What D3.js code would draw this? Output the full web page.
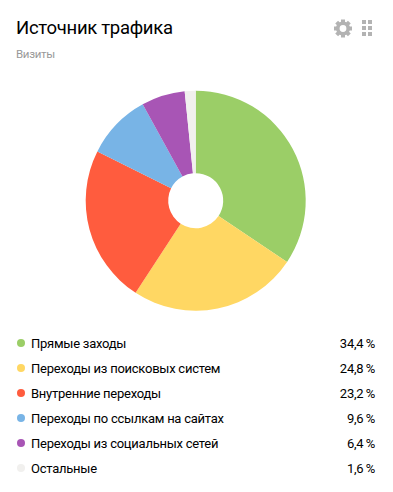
<!DOCTYPE html>
<html>
<head>
<meta charset="utf-8">
<script src="https://cdn.jsdelivr.net/npm/d3@7"></script>
<style>
  html, body { margin: 0; padding: 0; background: #fff; }
  text { font-family: Roboto, sans-serif; }
</style>
</head>
<body>
<svg id="chart" width="393" height="492"></svg>
<script>
// Traffic source chart
const categories = ["Прямые заходы", "Переходы из поисковых систем", "Внутренние переходы",
  "Переходы по ссылкам на сайтах", "Переходы из социальных сетей", "Остальные"];
const shares = [34.4, 24.8, 23.2, 9.6, 6.4, 1.6];
const colors = ["#9bce67", "#ffd763", "#ff5c3e", "#78b4e6", "#a855b5", "#f1f0ee"];

const svg = d3.select("#chart");
const cx = 195.7, cy = 200.7, outer = 110, inner = 27.5;

svg.append("text").attr("x", 16).attr("y", 34)
  .attr("font-size", 18.5).attr("letter-spacing", -0.3).attr("fill", "#000").text("Источник трафика");
svg.append("text").attr("x", 16).attr("y", 58)
  .attr("font-size", 11.5).attr("letter-spacing", -0.3).attr("fill", "#999").text("Визиты");

// gear icon
const gear = svg.append("g").attr("transform", "translate(343,28.5)").attr("fill", "#b3b3b3");
gear.selectAll("rect").data(d3.range(8)).enter().append("rect")
  .attr("x", -2).attr("y", -9).attr("width", 4).attr("height", 5)
  .attr("transform", d => "rotate(" + d * 45 + ")");
gear.append("circle").attr("r", 5.2).attr("fill", "none")
  .attr("stroke", "#b3b3b3").attr("stroke-width", 3.6);

// grid icon
const gridCols = [0, 1], gridRows = [0, 1, 2];
const grid = svg.append("g").attr("transform", "translate(362,20)").attr("fill", "#b3b3b3");
gridRows.forEach(r => gridCols.forEach(c => {
  grid.append("rect").attr("x", c * 6).attr("y", r * 6).attr("width", 4).attr("height", 4);
}));

// pie
const pie = d3.pie().sort(null).value(d => d);
const arc = d3.arc().innerRadius(inner).outerRadius(outer);
svg.append("g").attr("transform", "translate(" + cx + "," + cy + ")")
  .selectAll("path").data(pie(shares)).enter().append("path")
  .attr("d", arc)
  .attr("fill", (d, i) => colors[i]);

// legend
const rowY = d3.scalePoint().domain(categories).range([343, 468]);
const rows = svg.selectAll(".row").data(categories).enter().append("g")
  .attr("class", "row")
  .attr("transform", d => "translate(0," + rowY(d) + ")");
rows.append("circle").attr("cx", 21).attr("cy", 0).attr("r", 4)
  .attr("fill", (d, i) => colors[i]);
rows.append("text").attr("x", 31).attr("y", 4.5)
  .attr("font-size", 13).attr("letter-spacing", -0.25).attr("fill", "#000").text(d => d);
rows.append("text").attr("x", 375).attr("y", 4.5).attr("text-anchor", "end")
  .attr("font-size", 13).attr("letter-spacing", -0.25).attr("fill", "#000")
  .text((d, i) => String(shares[i]).replace(".", ",") + "\u2009%");
</script>
</body>
</html>
